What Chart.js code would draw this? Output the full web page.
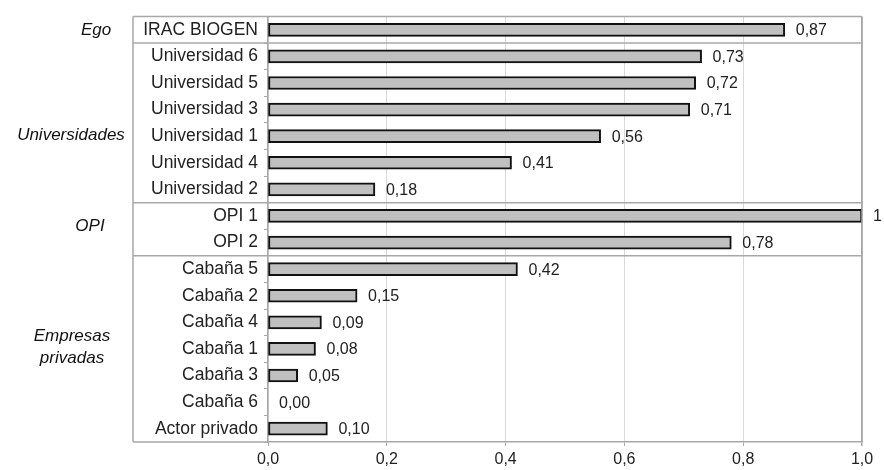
<!DOCTYPE html>
<html>
<head>
<meta charset="utf-8">
<script src="https://cdn.jsdelivr.net/npm/chart.js@4.4.1/dist/chart.umd.min.js"></script>
<style>
  html, body { margin: 0; padding: 0; background: #fff; }
  #wrap { width: 884px; height: 470px; }
</style>
</head>
<body>
<div id="wrap"><canvas id="chart"></canvas></div>
<script>
// Data
const actors = ['IRAC BIOGEN', 'Universidad 6', 'Universidad 5', 'Universidad 3', 'Universidad 1',
  'Universidad 4', 'Universidad 2', 'OPI 1', 'OPI 2', 'Cabaña 5', 'Cabaña 2', 'Cabaña 4',
  'Cabaña 1', 'Cabaña 3', 'Cabaña 6', 'Actor privado'];
const scores = [0.87, 0.73, 0.72, 0.71, 0.56, 0.41, 0.18, 1, 0.78, 0.42, 0.15, 0.09, 0.08, 0.05, 0.00, 0.10];
const groupNames = [['Ego'], ['Universidades'], ['OPI'], ['Empresas', 'privadas']];
const groupSizes = [1, 6, 2, 7];
const xTicks = [0, 0.2, 0.4, 0.6, 0.8, 1.0];

const boxColor = '#a8a8a8';
const fontFamily = '"Liberation Sans", Arial, Helvetica, sans-serif';

function fmtValue(v) {
  if (v === 1) return '1';
  return v.toFixed(2).replace('.', ',');
}

// value labels + the grouping box on the left
const decorPlugin = {
  id: 'decor',
  afterDatasetsDraw(chart) {
    const ctx = chart.ctx;
    const x = chart.scales.x, y = chart.scales.y;
    const area = chart.chartArea;
    const boxLeft = 133;

    ctx.save();
    // value labels
    ctx.font = '16px ' + fontFamily;
    ctx.fillStyle = '#222';
    ctx.textAlign = 'left';
    ctx.textBaseline = 'middle';
    scores.forEach((v, i) => {
      ctx.fillText(fmtValue(v), x.getPixelForValue(v) + 11, y.getPixelForValue(i) + 1);
    });

    // box lines
    ctx.strokeStyle = boxColor;
    ctx.lineWidth = 1.5;
    ctx.beginPath();
    ctx.moveTo(boxLeft, area.top); ctx.lineTo(area.right, area.top);
    ctx.moveTo(boxLeft, area.top); ctx.lineTo(boxLeft, area.bottom);
    ctx.moveTo(boxLeft, area.bottom); ctx.lineTo(area.left, area.bottom);
    ctx.moveTo(area.right, area.top); ctx.lineTo(area.right, area.bottom);
    ctx.stroke();

    // group separators and group labels (label placement nudged like the original)
    const labelX = [96, 71, 90, 72];
    const labelDy = [0, 12, -3, -2];
    let start = 0;
    groupSizes.forEach((n, g) => {
      const end = start + n - 1;
      if (start > 0) {
        const sy = (y.getPixelForValue(start - 1) + y.getPixelForValue(start)) / 2;
        ctx.beginPath();
        ctx.moveTo(boxLeft, sy); ctx.lineTo(area.right, sy);
        ctx.stroke();
      }
      const cy = (y.getPixelForValue(start) + y.getPixelForValue(end)) / 2 + labelDy[g];
      const lines = groupNames[g];
      ctx.font = 'italic 17px ' + fontFamily;
      ctx.fillStyle = '#111';
      ctx.textAlign = 'center';
      lines.forEach((t, k) => {
        ctx.fillText(t, labelX[g], cy + (k - (lines.length - 1) / 2) * 22);
      });
      start += n;
    });
    ctx.restore();
  }
};

new Chart(document.getElementById('chart'), {
  type: 'bar',
  data: {
    labels: actors,
    datasets: [{
      data: scores,
      backgroundColor: '#c0c0c0',
      borderColor: '#111',
      borderWidth: ctx => (ctx.raw === 0 ? 0 : 2),
      borderSkipped: false,
      barThickness: 13
    }]
  },
  options: {
    indexAxis: 'y',
    responsive: true,
    maintainAspectRatio: false,
    animation: false,
    layout: { padding: { left: 133, right: 22, top: 8, bottom: 0 } },
    plugins: {
      legend: { display: false },
      tooltip: { enabled: false }
    },
    scales: {
      x: {
        min: 0,
        max: 1,
        afterBuildTicks: scale => { scale.ticks = xTicks.map(v => ({ value: v })); },
        afterFit: scale => { scale.height = 28; },
        ticks: {
          padding: 4,
          color: '#222',
          font: { size: 16, family: fontFamily },
          callback: v => Number(v).toFixed(1).replace('.', ',')
        },
        grid: {
          color: ctx => (ctx.tick && ctx.tick.value === 1 ? boxColor : '#d9d9d9'),
          lineWidth: ctx => (ctx.tick && ctx.tick.value === 1 ? 1.5 : 1),
          tickColor: boxColor,
          tickLength: 4
        },
        border: { color: boxColor, width: 1.5 }
      },
      y: {
        afterFit: scale => { scale.width = 135; },
        ticks: {
          padding: 6,
          color: '#222',
          font: { size: 17.5, family: fontFamily }
        },
        grid: {
          drawOnChartArea: false,
          offset: true,
          color: boxColor,
          tickLength: 4
        },
        border: { color: boxColor, width: 1.5 }
      }
    }
  },
  plugins: [decorPlugin]
});
</script>
</body>
</html>
